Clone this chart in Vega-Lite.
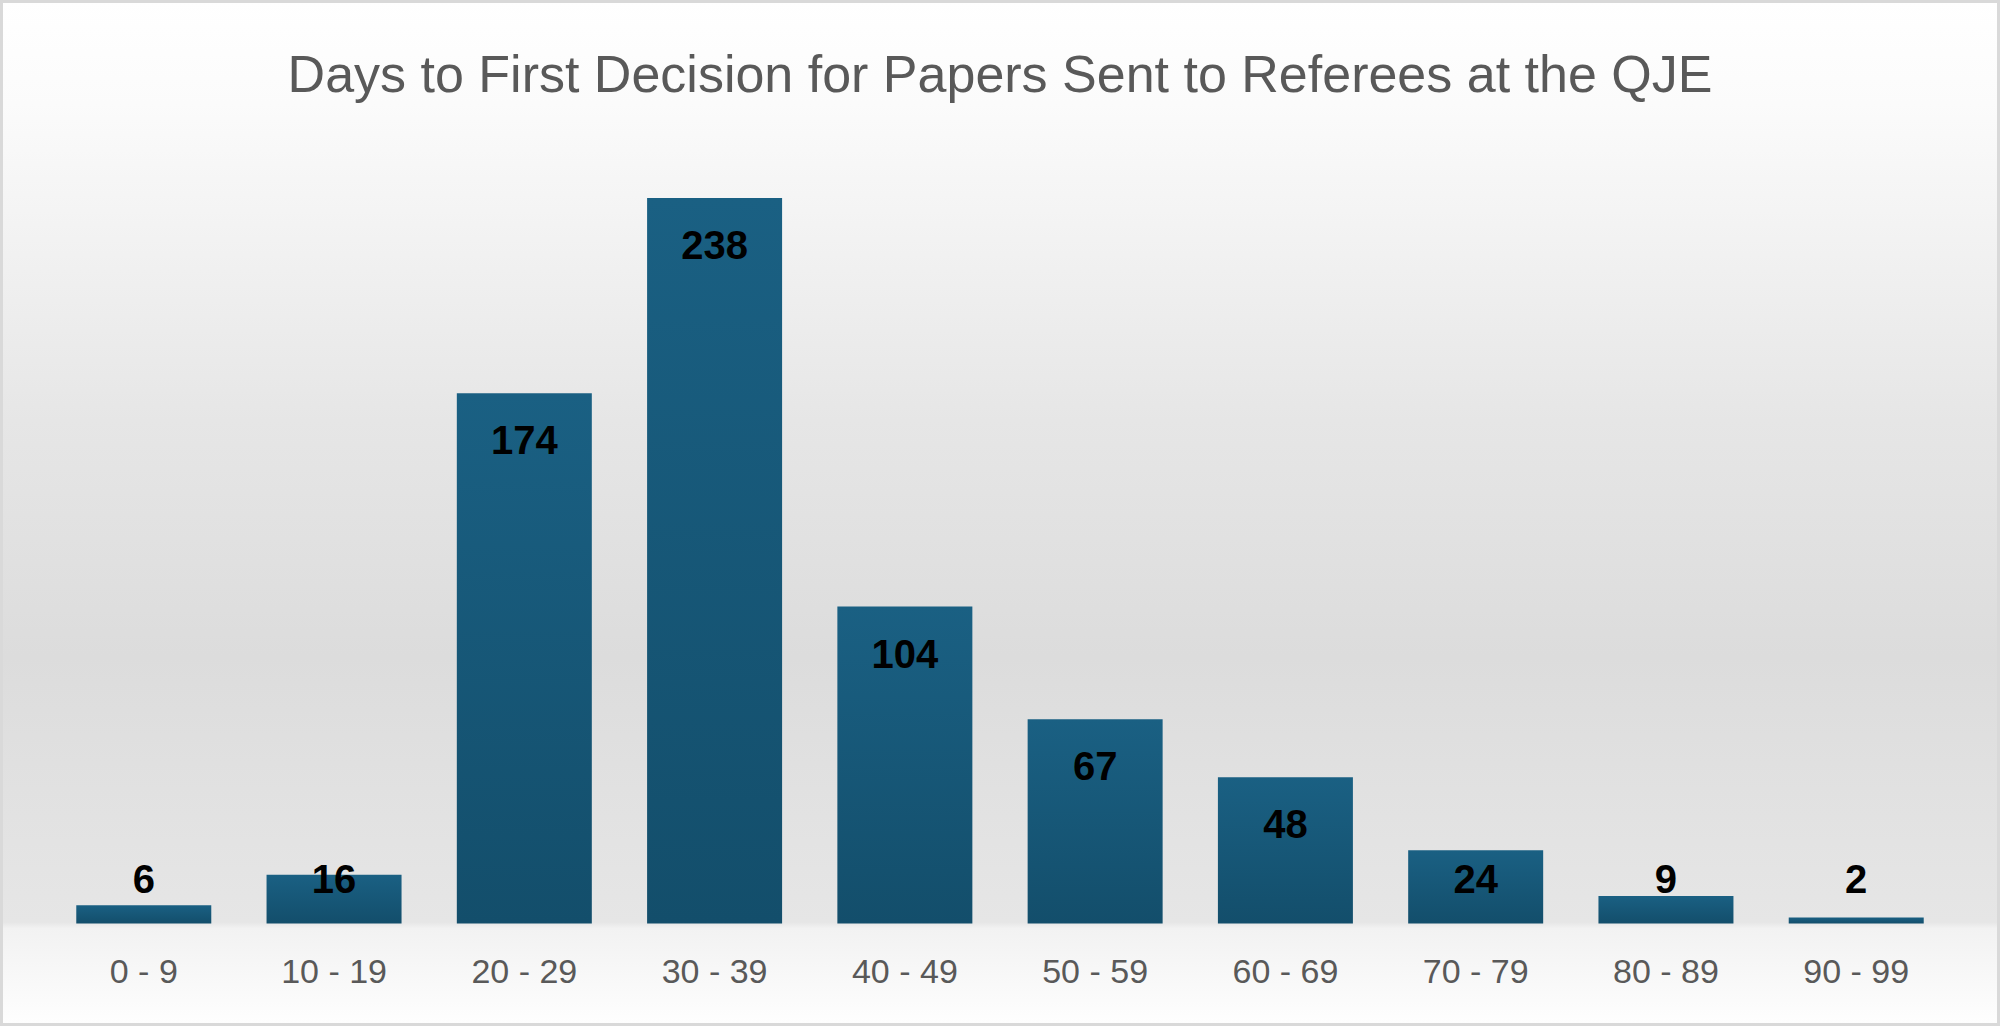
{
  "$schema": "https://vega.github.io/schema/vega-lite/v6.json",
  "width": 1997,
  "height": 1023,
  "autosize": {"type": "none"},
  "padding": 1.5,
  "background": "#ffffff",
  "view": {
    "fill": {
      "gradient": "linear",
      "x1": 0, "y1": 0, "x2": 0, "y2": 1,
      "stops": [
        {"offset": 0, "color": "#ffffff"},
        {"offset": 0.1, "color": "#fbfbfb"},
        {"offset": 0.41, "color": "#e6e6e6"},
        {"offset": 0.64, "color": "#dcdcdc"},
        {"offset": 0.9, "color": "#e6e6e6"},
        {"offset": 0.906, "color": "#f2f2f2"},
        {"offset": 1, "color": "#fefefe"}
      ]
    },
    "stroke": "#d9d9d9",
    "strokeWidth": 3
  },
  "title": {
    "text": "Days to First Decision for Papers Sent to Referees at the QJE",
    "font": "Liberation Sans",
    "fontSize": 52,
    "fontWeight": "normal",
    "color": "#595959",
    "anchor": "middle",
    "frame": "group",
    "baseline": "alphabetic",
    "offset": -142.5
  },
  "data": {
    "values": [
      {"range": "0 - 9", "count": 6},
      {"range": "10 - 19", "count": 16},
      {"range": "20 - 29", "count": 174},
      {"range": "30 - 39", "count": 238},
      {"range": "40 - 49", "count": 104},
      {"range": "50 - 59", "count": 67},
      {"range": "60 - 69", "count": 48},
      {"range": "70 - 79", "count": 24},
      {"range": "80 - 89", "count": 9},
      {"range": "90 - 99", "count": 2}
    ]
  },
  "encoding": {
    "x": {
      "field": "range",
      "type": "nominal",
      "sort": null,
      "scale": {"paddingInner": 0.2905, "paddingOuter": 0.393},
      "axis": {
        "title": null,
        "orient": "bottom",
        "offset": -101,
        "domain": false,
        "ticks": false,
        "grid": false,
        "labelAngle": 0,
        "labelFont": "Liberation Sans",
        "labelFontSize": 34,
        "labelColor": "#595959",
        "labelPadding": 32
      }
    }
  },
  "layer": [
    {
      "mark": {
        "type": "bar",
        "color": {
          "gradient": "linear",
          "x1": 0, "y1": 0, "x2": 0, "y2": 1,
          "stops": [
            {"offset": 0, "color": "#1a6083"},
            {"offset": 1, "color": "#134e6b"}
          ]
        }
      },
      "encoding": {
        "y": {
          "field": "count",
          "type": "quantitative",
          "scale": {"domain": [-33.14, 302.5], "nice": false},
          "axis": null
        }
      }
    },
    {
      "transform": [{"filter": "datum.count >= 30"}],
      "mark": {
        "type": "text",
        "font": "Liberation Sans",
        "fontWeight": "bold",
        "fontSize": 40,
        "color": "#000000",
        "baseline": "alphabetic",
        "align": "center",
        "dy": 61
      },
      "encoding": {
        "y": {"field": "count", "type": "quantitative", "scale": {"domain": [-33.14, 302.5], "nice": false}, "axis": null},
        "text": {"field": "count", "type": "quantitative"}
      }
    },
    {
      "transform": [{"filter": "datum.count < 30"}],
      "mark": {
        "type": "text",
        "font": "Liberation Sans",
        "fontWeight": "bold",
        "fontSize": 40,
        "color": "#000000",
        "baseline": "alphabetic",
        "align": "center",
        "dy": -30.5
      },
      "encoding": {
        "y": {"datum": 0, "type": "quantitative", "scale": {"domain": [-33.14, 302.5], "nice": false}, "axis": null},
        "text": {"field": "count", "type": "quantitative"}
      }
    }
  ]
}
